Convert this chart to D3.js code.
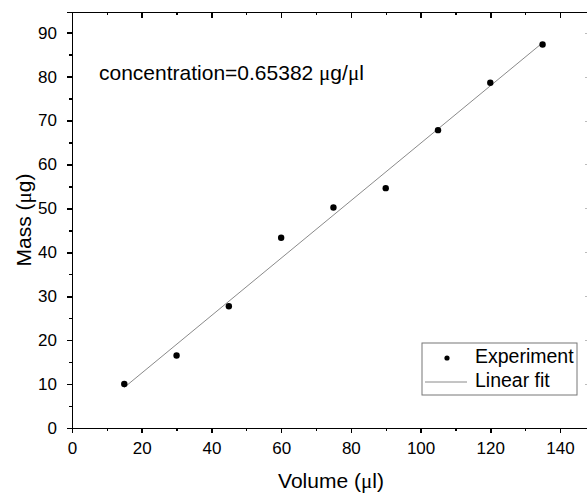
<!DOCTYPE html>
<html>
<head>
  <meta charset="utf-8" />
  <title>Mass vs Volume</title>
  <script type="text/javascript" src="https://cdn.jsdelivr.net/npm/d3@7"></script>
  <style type="text/css">
  body {
    margin: 0;
    background: #fff;
    font-family: "Liberation Sans", Arial, Helvetica, sans-serif;
  }
  .axis path, .axis line {
    stroke: #000;
    stroke-width: 1.6px;
    shape-rendering: crispedges;
  }
  .axis text {
    font-size: 17px;
    fill: #000;
    font-family: "Liberation Sans", Arial, sans-serif;
  }
  .minor line { stroke-width: 1.4px; }
  .right line { stroke: #bbb; stroke-width: 1px; }
  .fit { fill: none; stroke: #8a8a8a; stroke-width: 1px; }
  .dot { fill: #000; }
  .mu { font-family: "Liberation Serif", "Times New Roman", serif; }
  </style>
</head>
<body>
  <script type="text/javascript">
    var volume = [15, 30, 45, 60, 75, 90, 105, 120, 135]
    var mass = [10.0, 16.5, 27.7, 43.3, 50.2, 54.6, 67.8, 78.6, 87.3]
    var fitSlope = 0.65382,
        fitIntercept = -0.57
    var xTicks = [0, 20, 40, 60, 80, 100, 120, 140]
    var yTicks = [0, 10, 20, 30, 40, 50, 60, 70, 80, 90]

    var w = 587, h = 494,
        mLeft = 72, mRight = 590, mTop = 12, mBottom = 428

    var x = d3.scaleLinear().domain([0, 148.6]).range([mLeft, mRight]),
        y = d3.scaleLinear().domain([0, 94.7]).range([mBottom, mTop])

    var svg = d3.select(document.body)
      .append('svg')
      .attr('width', w)
      .attr('height', h)

    var xMinor = d3.range(10, 150, 20),
        yMinor = d3.range(5, 95, 10)

    // frame: top and right without labels
    svg.append('g').attr('class', 'axis minor')
      .attr('transform', 'translate(0,' + mTop + ')')
      .call(d3.axisTop(x).tickValues(xMinor).tickSize(-3).tickFormat(''))
    svg.append('g').attr('class', 'axis')
      .attr('transform', 'translate(0,' + mTop + ')')
      .call(d3.axisTop(x).tickValues(xTicks).tickSize(-6).tickFormat(''))
    svg.append('g').attr('class', 'axis right')
      .attr('transform', 'translate(' + (mRight - 1) + ',0)')
      .call(d3.axisRight(y).tickValues(yTicks).tickSize(-4).tickFormat(''))
      .select('.domain').style('stroke', '#000')

    // bottom
    svg.append('g').attr('class', 'axis minor')
      .attr('transform', 'translate(0,' + mBottom + ')')
      .call(d3.axisBottom(x).tickValues(xMinor).tickSize(3).tickFormat(''))
    svg.append('g').attr('class', 'axis')
      .attr('transform', 'translate(0,' + mBottom + ')')
      .call(d3.axisBottom(x).tickValues(xTicks).tickSize(5).tickPadding(9))

    // left
    svg.append('g').attr('class', 'axis minor')
      .attr('transform', 'translate(' + mLeft + ',0)')
      .call(d3.axisLeft(y).tickValues(yMinor).tickSize(3).tickFormat(''))
    svg.append('g').attr('class', 'axis')
      .attr('transform', 'translate(' + mLeft + ',0)')
      .call(d3.axisLeft(y).tickValues(yTicks).tickSize(5).tickPadding(10))

    // fit line
    var fitX = [d3.min(volume), d3.max(volume)]
    svg.append('path')
      .attr('class', 'fit')
      .attr('d', d3.line()
        .x(function(d) { return x(d) })
        .y(function(d) { return y(fitSlope * d + fitIntercept) })(fitX))

    svg.selectAll('circle.dot')
      .data(volume)
    .enter().append('circle')
      .attr('class', 'dot')
      .attr('r', 3.2)
      .attr('cx', function(d) { return x(d) })
      .attr('cy', function(d, i) { return y(mass[i]) })

    // text with a symbol-font mu
    function muText(t, parts) {
      parts.forEach(function(p) {
        var s = t.append('tspan').text(p)
        if (p === 'μ') s.attr('class', 'mu')
      })
      return t
    }

    muText(svg.append('text')
      .attr('x', (mLeft + mRight) / 2)
      .attr('y', 488)
      .attr('text-anchor', 'middle')
      .style('font-size', '21px'), ['Volume (', 'μ', 'l)'])

    muText(svg.append('text')
      .attr('transform', 'translate(31,' + ((mTop + mBottom) / 2) + ') rotate(-90)')
      .attr('text-anchor', 'middle')
      .style('font-size', '21px'), ['Mass (', 'μ', 'g)'])

    muText(svg.append('text')
      .attr('x', 99)
      .attr('y', 80)
      .style('font-size', '21px'), ['concentration=0.65382 ', 'μ', 'g/', 'μ', 'l'])

    // legend
    var lg = svg.append('g').attr('transform', 'translate(422,343)')
    lg.append('rect')
      .attr('width', 155).attr('height', 52)
      .attr('fill', '#fff').attr('stroke', '#777').attr('stroke-width', 1)
    lg.append('circle').attr('class', 'dot').attr('r', 2.6).attr('cx', 25).attr('cy', 15)
    lg.append('line').attr('class', 'fit')
      .attr('x1', 3).attr('x2', 45).attr('y1', 39).attr('y2', 39)
    lg.append('text').attr('x', 53).attr('y', 20).style('font-size', '19.5px').text('Experiment')
    lg.append('text').attr('x', 53).attr('y', 44).style('font-size', '19.5px').text('Linear fit')
  </script>
</body>
</html>
